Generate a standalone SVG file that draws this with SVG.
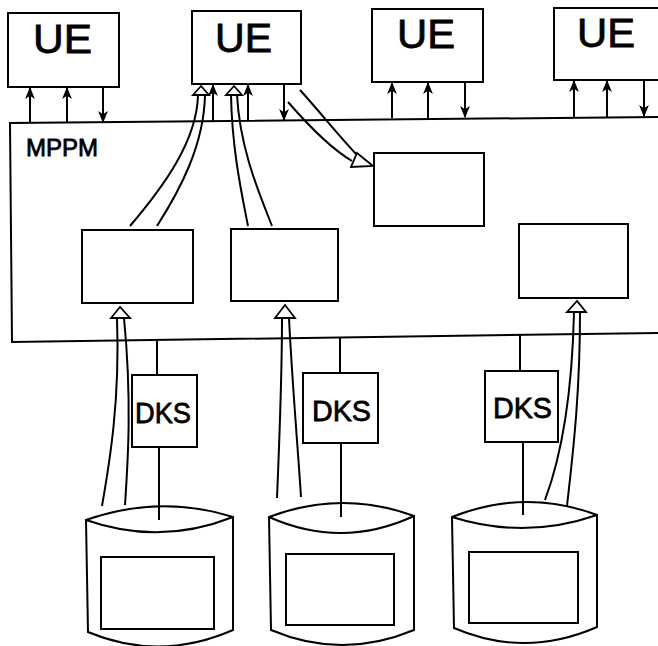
<svg xmlns="http://www.w3.org/2000/svg" width="658" height="646" viewBox="0 0 658 646">
<style>
.b{fill:#fff;stroke:#000;stroke-width:2}
.l{fill:none;stroke:#000;stroke-width:2}
.h{fill:#fff;stroke:#000;stroke-width:1.8;stroke-linejoin:miter}
.t{font-family:"Liberation Sans",Arial,sans-serif;fill:#000;stroke:#000;stroke-width:0.8;text-anchor:middle}
.ue{font-size:40px}
.dks{font-size:30px}
</style>
<defs>
<marker id="a" markerUnits="userSpaceOnUse" markerWidth="12" markerHeight="12" refX="10" refY="4.5" orient="auto" viewBox="0 0 11 9">
<path d="M0,0 L11,4.5 L0,9 L3,4.5 z" fill="#000"/>
</marker>
</defs>
<rect width="658" height="646" fill="#fff"/>

<g id="mppm">
<path class="l" d="M658,117 L10,123 L12,342 L658,333"/>
<text class="t" x="62" y="156" font-size="24" stroke-width="0.5">MPPM</text>
</g>

<g id="ue1"><rect class="b" x="8" y="13" width="111" height="74"/><text class="t ue" x="62.5" y="53" textLength="59" lengthAdjust="spacingAndGlyphs">UE</text></g>
<g id="ue2"><rect class="b" x="192" y="11" width="109" height="73"/><text class="t ue" x="243.5" y="52" textLength="57" lengthAdjust="spacingAndGlyphs">UE</text></g>
<g id="ue3"><rect class="b" x="372" y="9" width="111" height="73"/><text class="t ue" x="426" y="48" textLength="58" lengthAdjust="spacingAndGlyphs">UE</text></g>
<g id="ue4"><rect class="b" x="554" y="8" width="110" height="72"/><text class="t ue" x="606" y="47" textLength="58" lengthAdjust="spacingAndGlyphs">UE</text></g>

<g id="box1"><rect class="b" x="82" y="230" width="111" height="73"/></g>
<g id="box2"><rect class="b" x="231" y="229" width="107" height="72"/></g>
<g id="box3"><rect class="b" x="374" y="153" width="110" height="73"/></g>
<g id="box4"><rect class="b" x="519" y="224" width="109" height="74"/></g>

<g id="dks1"><rect class="b" x="132" y="375" width="65" height="72"/><text class="t dks" x="163" y="423" textLength="56" lengthAdjust="spacingAndGlyphs">DKS</text></g>
<g id="dks2"><rect class="b" x="303" y="373" width="75" height="70"/><text class="t dks" x="341.5" y="421" textLength="59" lengthAdjust="spacingAndGlyphs">DKS</text></g>
<g id="dks3"><rect class="b" x="485" y="371" width="73" height="71"/><text class="t dks" x="522.5" y="418" textLength="59" lengthAdjust="spacingAndGlyphs">DKS</text></g>

<g id="db1">
<path class="b" d="M86,520 L88,632 Q160,662 233,630 L233,517 Q160,494 86,520 Z"/>
<path class="l" d="M86,520 Q160,546 233,517"/>
<rect class="b" x="101" y="557" width="113" height="72"/>
</g>
<g id="db2">
<path class="b" d="M269,517 L271,630 Q342,660 414,630 L414,516 Q342,489.5 269,517 Z"/>
<path class="l" d="M269,517 Q342,549.5 414,516"/>
<rect class="b" x="286" y="554" width="108" height="71"/>
</g>
<g id="db3">
<path class="b" d="M452,517 L454,628 Q525,658.5 597,627 L597,515 Q525,488 452,517 Z"/>
<path class="l" d="M452,517 Q525,540 597,515"/>
<rect class="b" x="469" y="552" width="109" height="71"/>
</g>

<g id="connectors">
<line class="l" x1="30" y1="123" x2="30" y2="88" marker-end="url(#a)"/>
<line class="l" x1="67" y1="123" x2="67" y2="88" marker-end="url(#a)"/>
<line class="l" x1="103" y1="87" x2="103" y2="122" marker-end="url(#a)"/>
<line class="l" x1="213" y1="121" x2="213" y2="85" marker-end="url(#a)"/>
<line class="l" x1="248" y1="121" x2="248" y2="85" marker-end="url(#a)"/>
<line class="l" x1="284" y1="84" x2="284" y2="120" marker-end="url(#a)"/>
<line class="l" x1="392" y1="118" x2="392" y2="83" marker-end="url(#a)"/>
<line class="l" x1="428" y1="118" x2="428" y2="83" marker-end="url(#a)"/>
<line class="l" x1="465" y1="82" x2="465" y2="117" marker-end="url(#a)"/>
<line class="l" x1="574" y1="117" x2="574" y2="81" marker-end="url(#a)"/>
<line class="l" x1="607" y1="117" x2="607" y2="81" marker-end="url(#a)"/>
<line class="l" x1="644" y1="80" x2="644" y2="116" marker-end="url(#a)"/>

<path class="l" d="M198,95 C197,140 165,185 130,226"/>
<path class="l" d="M205,95 C204,145 180,190 157,226"/>
<polygon class="h" points="201,86 193,95 209,95"/>
<path class="l" d="M231,95 C232,150 242,195 248,226"/>
<path class="l" d="M237,95 C240,150 260,195 272,226"/>
<polygon class="h" points="234,86 226,95 242,95"/>
<path class="l" d="M300,90 C320,112 338,135 357,155"/>
<path class="l" d="M288,102 C308,125 330,148 352,161"/>
<polygon class="h" points="373,166 357,153 351,167"/>

<path class="l" d="M117,318 C120,400 110,460 102,506"/>
<path class="l" d="M124,318 C132,400 128,460 125,505"/>
<polygon class="h" points="120,307 111,318 130,318"/>
<path class="l" d="M282,318 C282,380 279,450 277,498"/>
<path class="l" d="M289,318 C292,380 298,450 301,497"/>
<polygon class="h" points="285,305 275,318 295,318"/>
<path class="l" d="M574,312 C572,400 560,460 545,500"/>
<path class="l" d="M580,312 C580,400 572,460 567,506"/>
<polygon class="h" points="577,301 567,312 586,312"/>

<line class="l" x1="157" y1="340" x2="157" y2="375"/>
<line class="l" x1="159" y1="447" x2="159" y2="520"/>
<line class="l" x1="340" y1="337" x2="340" y2="373"/>
<line class="l" x1="341" y1="443" x2="341" y2="517"/>
<line class="l" x1="520" y1="335" x2="520" y2="371"/>
<line class="l" x1="523" y1="442" x2="523" y2="515"/>
</g>
</svg>
